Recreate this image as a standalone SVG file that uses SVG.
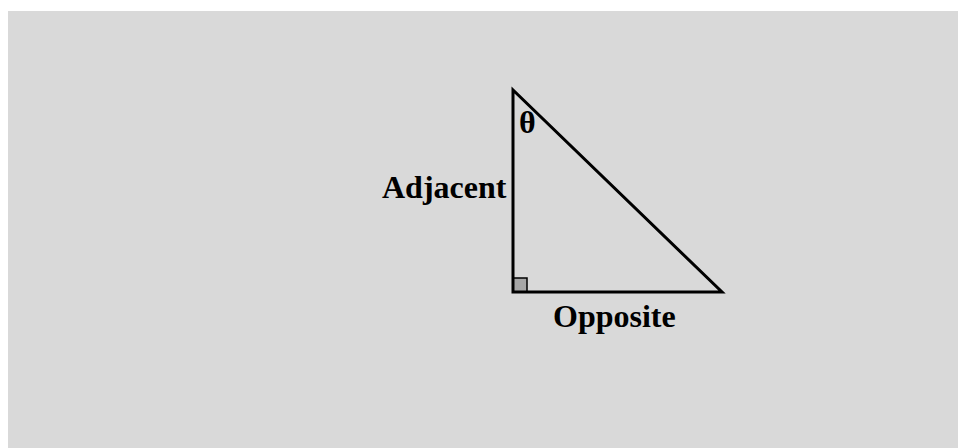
<svg xmlns="http://www.w3.org/2000/svg" width="958" height="448" viewBox="0 0 958 448">
<style>
.lbl{font-family:"Liberation Serif","Times New Roman",serif;font-weight:bold;font-size:32px;fill:#000}
.edge{fill:none;stroke:#000;stroke-width:3}
</style>
<rect x="0" y="0" width="958" height="448" fill="#fff"/>
<rect x="8" y="11" width="950" height="437" fill="#d9d9d9"/>
<g id="triangle">
<rect x="513" y="278" width="14" height="14" fill="#a6a6a6" stroke="#000" stroke-width="1.5"/>
<polygon class="edge" points="513,90 513,292 722,292" stroke-linejoin="miter"/>
</g>
<g id="labels">
<text class="lbl" x="382" y="198">Adjacent</text>
<text class="lbl" x="553" y="327">Opposite</text>
<text class="lbl" x="519" y="133">θ</text>
</g>
</svg>
